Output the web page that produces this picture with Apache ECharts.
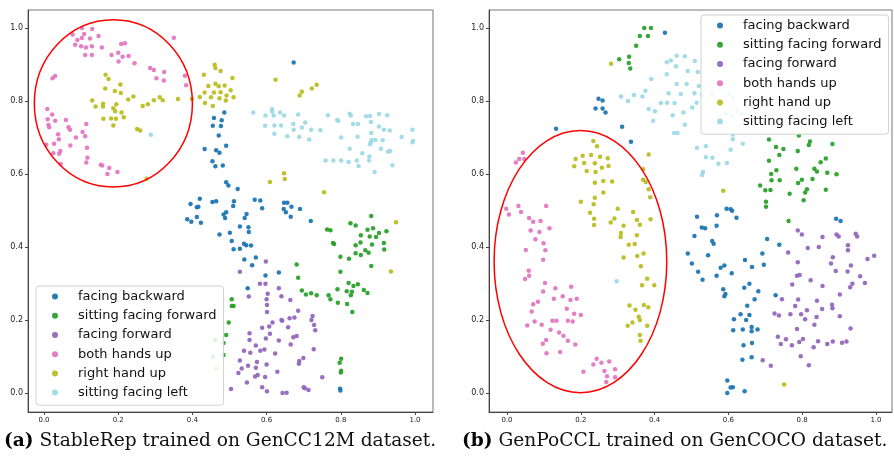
<!DOCTYPE html>
<html>
<head>
<meta charset="utf-8">
<script src="https://cdn.jsdelivr.net/npm/echarts@6/dist/echarts.min.js"></script>
<style>
  html, body { margin: 0; padding: 0; background: #fff; }
  #chart { width: 894px; height: 456px; }
</style>
</head>
<body>
<div id="chart"></div>
<script>
const classNames = ['facing backward', 'sitting facing forward', 'facing forward', 'both hands up', 'right hand up', 'sitting facing left']
const tickValues = [0, 0.2, 0.4, 0.6, 0.8, 1.0]

// (a) StableRep / GenCC12M
const leftBackward = [[0.673,0.905],[0.486,0.768],[0.458,0.753],[0.479,0.747],[0.455,0.732],[0.477,0.731],[0.471,0.705],[0.433,0.668],[0.464,0.665],[0.473,0.658],[0.491,0.677],[0.454,0.635],[0.462,0.621],[0.482,0.623],[0.491,0.577],[0.497,0.568],[0.522,0.559],[0.420,0.532],[0.395,0.518],[0.412,0.509],[0.416,0.510],[0.454,0.523],[0.464,0.525],[0.512,0.525],[0.510,0.512],[0.568,0.529],[0.583,0.527],[0.588,0.506],[0.647,0.521],[0.656,0.521],[0.667,0.510],[0.646,0.504],[0.690,0.504],[0.386,0.476],[0.397,0.469],[0.412,0.482],[0.423,0.466],[0.473,0.434],[0.484,0.489],[0.491,0.495],[0.488,0.479],[0.546,0.490],[0.541,0.479],[0.652,0.495],[0.665,0.483],[0.719,0.471],[0.528,0.456],[0.551,0.454],[0.552,0.441],[0.501,0.439],[0.506,0.416],[0.539,0.409],[0.545,0.405],[0.558,0.404],[0.511,0.394],[0.528,0.395],[0.571,0.371],[0.540,0.366],[0.561,0.350],[0.633,0.330],[0.597,0.322],[0.549,0.287],[0.798,0.012],[0.799,0.007]]
const leftSitFwd = [[0.882,0.485],[0.826,0.465],[0.840,0.459],[0.763,0.448],[0.772,0.446],[0.872,0.447],[0.887,0.451],[0.903,0.438],[0.923,0.443],[0.854,0.432],[0.878,0.429],[0.895,0.427],[0.779,0.411],[0.782,0.408],[0.840,0.405],[0.853,0.412],[0.884,0.407],[0.916,0.411],[0.840,0.383],[0.854,0.378],[0.866,0.391],[0.875,0.384],[0.917,0.393],[0.799,0.373],[0.822,0.368],[0.882,0.348],[0.681,0.352],[0.799,0.332],[0.685,0.316],[0.821,0.301],[0.834,0.293],[0.846,0.298],[0.791,0.284],[0.816,0.279],[0.830,0.277],[0.827,0.268],[0.862,0.282],[0.872,0.274],[0.695,0.281],[0.706,0.270],[0.720,0.273],[0.735,0.268],[0.767,0.268],[0.772,0.257],[0.792,0.247],[0.817,0.244],[0.831,0.222],[0.506,0.257],[0.506,0.238],[0.511,0.238],[0.498,0.193],[0.491,0.159],[0.484,0.137],[0.484,0.104],[0.461,0.145],[0.456,0.099],[0.801,0.094],[0.797,0.083],[0.801,0.061],[0.800,0.056]]
const leftFacingFwd = [[0.598,0.360],[0.528,0.332],[0.582,0.299],[0.597,0.299],[0.633,0.287],[0.603,0.272],[0.552,0.264],[0.640,0.265],[0.600,0.257],[0.664,0.255],[0.601,0.241],[0.601,0.222],[0.685,0.225],[0.724,0.211],[0.640,0.200],[0.642,0.198],[0.662,0.205],[0.675,0.207],[0.721,0.200],[0.616,0.193],[0.588,0.179],[0.607,0.182],[0.658,0.180],[0.728,0.186],[0.731,0.172],[0.554,0.164],[0.609,0.162],[0.681,0.156],[0.672,0.153],[0.554,0.145],[0.598,0.149],[0.633,0.144],[0.571,0.130],[0.665,0.133],[0.539,0.116],[0.556,0.110],[0.583,0.116],[0.594,0.119],[0.727,0.120],[0.623,0.108],[0.528,0.089],[0.574,0.085],[0.699,0.096],[0.688,0.088],[0.687,0.080],[0.600,0.078],[0.550,0.075],[0.571,0.069],[0.533,0.067],[0.524,0.055],[0.629,0.058],[0.576,0.049],[0.569,0.045],[0.596,0.044],[0.750,0.043],[0.547,0.029],[0.588,0.016],[0.700,0.016],[0.703,0.013],[0.713,0.008],[0.504,0.011],[0.601,0.005],[0.643,0.000],[0.654,0.001]]
const leftHands = [[0.077,0.982],[0.102,1.000],[0.130,0.997],[0.108,0.983],[0.090,0.967],[0.102,0.972],[0.124,0.971],[0.147,0.978],[0.084,0.954],[0.100,0.950],[0.113,0.946],[0.129,0.950],[0.156,0.946],[0.111,0.926],[0.129,0.926],[0.182,0.926],[0.200,0.932],[0.208,0.956],[0.218,0.958],[0.212,0.921],[0.228,0.923],[0.201,0.908],[0.244,0.903],[0.286,0.890],[0.296,0.885],[0.324,0.879],[0.303,0.862],[0.323,0.856],[0.350,0.973],[0.380,0.869],[0.383,0.843],[0.023,0.862],[0.030,0.868],[0.009,0.778],[0.022,0.763],[0.010,0.750],[0.030,0.746],[0.012,0.734],[0.014,0.728],[0.059,0.748],[0.066,0.728],[0.070,0.721],[0.114,0.737],[0.104,0.715],[0.111,0.703],[0.038,0.709],[0.040,0.695],[0.086,0.700],[0.006,0.680],[0.027,0.683],[0.071,0.678],[0.116,0.672],[0.044,0.663],[0.041,0.655],[0.025,0.657],[0.117,0.644],[0.114,0.631],[0.045,0.627],[0.153,0.625],[0.157,0.623],[0.176,0.616],[0.171,0.600],[0.198,0.605]]
const leftRightHand = [[0.166,0.872],[0.174,0.860],[0.165,0.834],[0.191,0.827],[0.206,0.845],[0.207,0.822],[0.130,0.801],[0.139,0.785],[0.159,0.792],[0.159,0.785],[0.195,0.791],[0.187,0.780],[0.192,0.772],[0.227,0.804],[0.241,0.812],[0.209,0.768],[0.215,0.755],[0.160,0.751],[0.181,0.752],[0.194,0.751],[0.187,0.733],[0.251,0.723],[0.259,0.719],[0.266,0.786],[0.280,0.791],[0.296,0.802],[0.312,0.810],[0.320,0.802],[0.361,0.805],[0.399,0.805],[0.277,0.587],[0.460,0.899],[0.462,0.890],[0.476,0.882],[0.431,0.872],[0.508,0.863],[0.443,0.841],[0.462,0.847],[0.471,0.840],[0.487,0.842],[0.433,0.823],[0.458,0.823],[0.476,0.824],[0.503,0.829],[0.420,0.811],[0.450,0.810],[0.473,0.807],[0.492,0.815],[0.490,0.801],[0.511,0.810],[0.434,0.794],[0.455,0.786],[0.624,0.858],[0.695,0.825],[0.689,0.815],[0.722,0.834],[0.735,0.844],[0.647,0.602],[0.649,0.586],[0.609,0.578],[0.755,0.550],[0.949,0.468],[0.935,0.333],[0.465,0.067]]
const leftSitLeft = [[0.288,0.707],[0.564,0.768],[0.615,0.778],[0.615,0.771],[0.597,0.760],[0.619,0.760],[0.636,0.768],[0.647,0.760],[0.685,0.763],[0.596,0.732],[0.621,0.733],[0.639,0.733],[0.672,0.737],[0.704,0.741],[0.695,0.727],[0.673,0.721],[0.720,0.721],[0.745,0.720],[0.621,0.710],[0.656,0.703],[0.688,0.701],[0.715,0.694],[0.765,0.761],[0.790,0.748],[0.793,0.746],[0.824,0.765],[0.827,0.760],[0.833,0.737],[0.846,0.737],[0.868,0.758],[0.879,0.759],[0.903,0.764],[0.925,0.761],[0.881,0.742],[0.903,0.730],[0.916,0.721],[0.932,0.719],[0.993,0.721],[0.882,0.712],[0.801,0.700],[0.845,0.702],[0.883,0.693],[0.893,0.693],[0.913,0.692],[0.881,0.687],[0.879,0.681],[0.964,0.701],[0.995,0.690],[0.993,0.687],[0.824,0.669],[0.908,0.669],[0.858,0.657],[0.927,0.661],[0.933,0.663],[0.877,0.648],[0.759,0.637],[0.780,0.637],[0.801,0.637],[0.821,0.633],[0.843,0.637],[0.876,0.637],[0.848,0.622],[0.939,0.624],[0.891,0.605]]

// (b) GenPoCCL / GenCOCO
const rightBackward = [[0.428,0.987],[0.248,0.806],[0.259,0.801],[0.240,0.779],[0.259,0.779],[0.267,0.768],[0.133,0.724],[0.312,0.729],[0.336,0.688],[0.595,0.505],[0.606,0.503],[0.610,0.499],[0.622,0.480],[0.515,0.483],[0.569,0.487],[0.528,0.453],[0.537,0.451],[0.568,0.458],[0.508,0.430],[0.556,0.416],[0.560,0.409],[0.490,0.382],[0.545,0.377],[0.501,0.355],[0.518,0.332],[0.530,0.310],[0.579,0.343],[0.589,0.349],[0.568,0.321],[0.609,0.328],[0.645,0.364],[0.664,0.345],[0.692,0.382],[0.696,0.351],[0.705,0.422],[0.738,0.406],[0.892,0.477],[0.904,0.471],[0.586,0.284],[0.592,0.271],[0.589,0.265],[0.643,0.288],[0.657,0.299],[0.681,0.279],[0.671,0.257],[0.728,0.268],[0.651,0.239],[0.633,0.216],[0.657,0.214],[0.615,0.202],[0.648,0.200],[0.613,0.172],[0.639,0.174],[0.663,0.181],[0.663,0.169],[0.679,0.174],[0.641,0.131],[0.664,0.137],[0.638,0.091],[0.663,0.098],[0.597,0.034],[0.606,0.015],[0.612,0.016],[0.597,0.000],[0.644,0.005]]
const rightSitFwd = [[0.372,1.000],[0.390,1.000],[0.360,0.978],[0.382,0.978],[0.350,0.951],[0.304,0.914],[0.331,0.921],[0.330,0.904],[0.334,0.889],[0.710,0.694],[0.791,0.705],[0.729,0.674],[0.749,0.668],[0.738,0.652],[0.788,0.663],[0.821,0.689],[0.818,0.679],[0.882,0.682],[0.710,0.636],[0.850,0.632],[0.864,0.642],[0.730,0.610],[0.716,0.600],[0.784,0.614],[0.833,0.614],[0.840,0.607],[0.868,0.603],[0.893,0.599],[0.717,0.583],[0.739,0.583],[0.799,0.584],[0.789,0.575],[0.828,0.586],[0.686,0.568],[0.700,0.555],[0.714,0.556],[0.766,0.546],[0.808,0.549],[0.813,0.558],[0.864,0.557],[0.804,0.528],[0.702,0.524],[0.702,0.510],[0.763,0.471]]
const rightFacingFwd = [[0.788,0.445],[0.799,0.434],[0.855,0.427],[0.893,0.434],[0.899,0.429],[0.945,0.436],[0.949,0.429],[0.924,0.405],[0.924,0.391],[0.815,0.397],[0.845,0.400],[0.762,0.385],[0.883,0.372],[0.878,0.355],[0.788,0.358],[0.932,0.349],[0.977,0.367],[0.995,0.376],[0.891,0.334],[0.923,0.333],[0.786,0.321],[0.793,0.323],[0.823,0.309],[0.957,0.320],[0.773,0.297],[0.855,0.293],[0.936,0.299],[0.930,0.290],[0.970,0.301],[0.902,0.270],[0.745,0.257],[0.789,0.256],[0.840,0.253],[0.881,0.242],[0.882,0.232],[0.854,0.230],[0.781,0.238],[0.813,0.227],[0.725,0.218],[0.737,0.212],[0.768,0.216],[0.797,0.216],[0.808,0.202],[0.839,0.208],[0.902,0.210],[0.833,0.187],[0.786,0.175],[0.931,0.177],[0.734,0.154],[0.756,0.147],[0.742,0.134],[0.772,0.131],[0.792,0.140],[0.802,0.148],[0.831,0.125],[0.843,0.142],[0.868,0.134],[0.883,0.141],[0.908,0.138],[0.920,0.141],[0.796,0.101],[0.693,0.090],[0.715,0.075],[0.818,0.076]]
const rightHands = [[0.043,0.658],[0.033,0.641],[0.024,0.631],[0.047,0.641],[-0.002,0.505],[0.031,0.512],[0.106,0.512],[0.005,0.489],[0.038,0.496],[0.060,0.479],[0.071,0.469],[0.091,0.471],[0.064,0.445],[0.088,0.441],[0.115,0.451],[0.077,0.421],[0.099,0.410],[0.051,0.392],[0.104,0.391],[0.098,0.365],[0.059,0.335],[0.060,0.321],[0.049,0.312],[0.103,0.301],[0.098,0.278],[0.131,0.287],[0.174,0.291],[0.127,0.258],[0.151,0.265],[0.172,0.255],[0.189,0.258],[0.084,0.250],[0.071,0.243],[0.067,0.223],[0.162,0.231],[0.182,0.217],[0.200,0.214],[0.055,0.185],[0.075,0.196],[0.094,0.187],[0.123,0.198],[0.134,0.198],[0.165,0.198],[0.178,0.196],[0.118,0.173],[0.141,0.166],[0.153,0.157],[0.106,0.145],[0.097,0.135],[0.165,0.143],[0.185,0.133],[0.107,0.109],[0.144,0.112],[0.243,0.094],[0.234,0.078],[0.256,0.083],[0.277,0.086],[0.207,0.058],[0.264,0.060],[0.271,0.046],[0.293,0.065],[0.269,0.030],[0.293,0.043]]
const rightRightHand = [[0.282,0.902],[0.234,0.690],[0.244,0.676],[0.186,0.641],[0.205,0.650],[0.228,0.652],[0.252,0.647],[0.273,0.643],[0.182,0.621],[0.209,0.630],[0.238,0.629],[0.257,0.617],[0.275,0.622],[0.216,0.608],[0.240,0.605],[0.384,0.653],[0.369,0.613],[0.369,0.584],[0.376,0.578],[0.384,0.558],[0.388,0.536],[0.238,0.576],[0.261,0.581],[0.285,0.579],[0.261,0.549],[0.238,0.535],[0.200,0.524],[0.235,0.517],[0.300,0.505],[0.225,0.494],[0.236,0.477],[0.236,0.460],[0.281,0.467],[0.291,0.478],[0.316,0.458],[0.342,0.496],[0.352,0.474],[0.360,0.461],[0.389,0.476],[0.309,0.438],[0.308,0.427],[0.352,0.432],[0.330,0.406],[0.346,0.408],[0.316,0.371],[0.353,0.375],[0.370,0.382],[0.363,0.347],[0.380,0.313],[0.366,0.295],[0.399,0.295],[0.332,0.240],[0.348,0.228],[0.371,0.241],[0.383,0.235],[0.357,0.209],[0.360,0.200],[0.340,0.193],[0.327,0.184],[0.380,0.184],[0.360,0.159],[0.362,0.143],[0.586,0.554],[0.751,0.023]]
const rightSitLeft = [[0.309,0.812],[0.328,0.800],[0.344,0.816],[0.367,0.812],[0.375,0.828],[0.384,0.778],[0.401,0.772],[0.396,0.746],[0.391,0.860],[0.433,0.906],[0.433,0.873],[0.438,0.821],[0.417,0.794],[0.434,0.795],[0.444,0.911],[0.460,0.924],[0.482,0.922],[0.458,0.895],[0.509,0.909],[0.490,0.882],[0.517,0.879],[0.460,0.846],[0.487,0.846],[0.471,0.819],[0.508,0.821],[0.454,0.794],[0.514,0.795],[0.502,0.782],[0.478,0.768],[0.449,0.761],[0.482,0.735],[0.453,0.712],[0.462,0.712],[0.520,0.841],[0.529,0.817],[0.556,0.819],[0.601,0.819],[0.612,0.808],[0.622,0.773],[0.593,0.766],[0.609,0.757],[0.636,0.764],[0.612,0.708],[0.612,0.695],[0.639,0.683],[0.515,0.672],[0.539,0.676],[0.606,0.666],[0.539,0.646],[0.557,0.644],[0.573,0.628],[0.596,0.630],[0.531,0.605],[0.529,0.597],[0.297,0.306]]

// highlighted regions: [cx, cy, rx, ry]
const leftEllipse = [[0.187, 0.793, 0.213, 0.229]]
const rightEllipse = [[0.199, 0.360, 0.234, 0.359]]

const colors = ['#1f77b4', '#2ca02c', '#9467bd', '#e377c2', '#bcbd22', '#9edae5']
const leftSets = [leftBackward, leftSitFwd, leftFacingFwd, leftHands, leftRightHand, leftSitLeft]
const rightSets = [rightBackward, rightSitFwd, rightFacingFwd, rightHands, rightRightHand, rightSitLeft]

const chart = echarts.init(document.getElementById('chart'))

function xAxis(gridIndex, min, max) {
  return {
    type: 'value', gridIndex, min, max,
    splitLine: { show: false },
    axisLine: { show: true, onZero: false, lineStyle: { color: '#444' } },
    axisTick: { show: true, length: 3, lineStyle: { color: '#444' }, customValues: tickValues },
    axisLabel: {
      customValues: tickValues, margin: 5, color: '#222', fontSize: 7,
      fontFamily: 'DejaVu Sans', formatter: v => v.toFixed(1),
    },
  }
}

function yAxis(gridIndex) {
  return {
    type: 'value', gridIndex, min: -0.052, max: 1.049,
    splitLine: { show: false },
    axisLine: { show: true, onZero: false, lineStyle: { color: '#444' } },
    axisTick: { show: true, length: 3, lineStyle: { color: '#444' }, customValues: tickValues },
    axisLabel: {
      customValues: tickValues, margin: 5, color: '#222', fontSize: 8,
      fontFamily: 'DejaVu Sans', formatter: v => v.toFixed(1),
    },
  }
}

function scatter(sets, idx) {
  return sets.map((d, i) => ({
    type: 'scatter',
    name: classNames[i],
    xAxisIndex: idx,
    yAxisIndex: idx,
    data: d,
    symbolSize: 4.5,
    itemStyle: { color: colors[i], opacity: 0.95 },
  }))
}

function ellipse(data, idx) {
  return {
    type: 'custom',
    xAxisIndex: idx,
    yAxisIndex: idx,
    data,
    z: 3,
    renderItem(params, api) {
      const c = api.coord([api.value(0), api.value(1)])
      const s = api.size([api.value(2), api.value(3)])
      return {
        type: 'ellipse',
        shape: { cx: c[0], cy: c[1], rx: s[0], ry: s[1] },
        style: { fill: 'none', stroke: '#ff0000', lineWidth: 1.5 },
      }
    },
  }
}

function legend(left, top) {
  return {
    data: classNames,
    left, top,
    orient: 'vertical',
    icon: 'circle',
    itemWidth: 36,
    itemHeight: 6,
    itemGap: 0,
    padding: [1, 7, 3, 16],
    backgroundColor: 'rgba(255,255,255,0.85)',
    borderColor: '#d0d0d0',
    borderWidth: 1,
    borderRadius: 3,
    textStyle: { fontFamily: 'DejaVu Sans', fontSize: 13, color: '#111', lineHeight: 19.2 },
    selectedMode: false,
  }
}

const captionStyle = {
  fontFamily: 'DejaVu Serif', fontSize: 18.6, fontWeight: 'normal', color: '#111',
  rich: { b: { fontFamily: 'DejaVu Serif', fontSize: 18.6, fontWeight: 'bold', color: '#000' } },
}

chart.setOption({
  animation: false,
  title: [
    { text: '{b|(a)} StableRep trained on GenCC12M dataset.', left: 4, top: 432, padding: 0, textStyle: captionStyle },
    { text: '{b|(b)} GenPoCCL trained on GenCOCO dataset.', left: 462, top: 432, padding: 0, textStyle: captionStyle },
  ],
  grid: [
    { left: 28, top: 10, width: 405, height: 402, show: true, borderColor: '#777', borderWidth: 1 },
    { left: 489, top: 10, width: 403, height: 402, show: true, borderColor: '#777', borderWidth: 1 },
  ],
  xAxis: [xAxis(0, -0.0431, 1.0485), xAxis(1, -0.0488, 1.0434)],
  yAxis: [yAxis(0), yAxis(1)],
  legend: [legend(36, 286), legend(701, 15)],
  series: [
    ...scatter(leftSets, 0),
    ...scatter(rightSets, 1),
    ellipse(leftEllipse, 0),
    ellipse(rightEllipse, 1),
  ],
})
</script>
</body>
</html>
